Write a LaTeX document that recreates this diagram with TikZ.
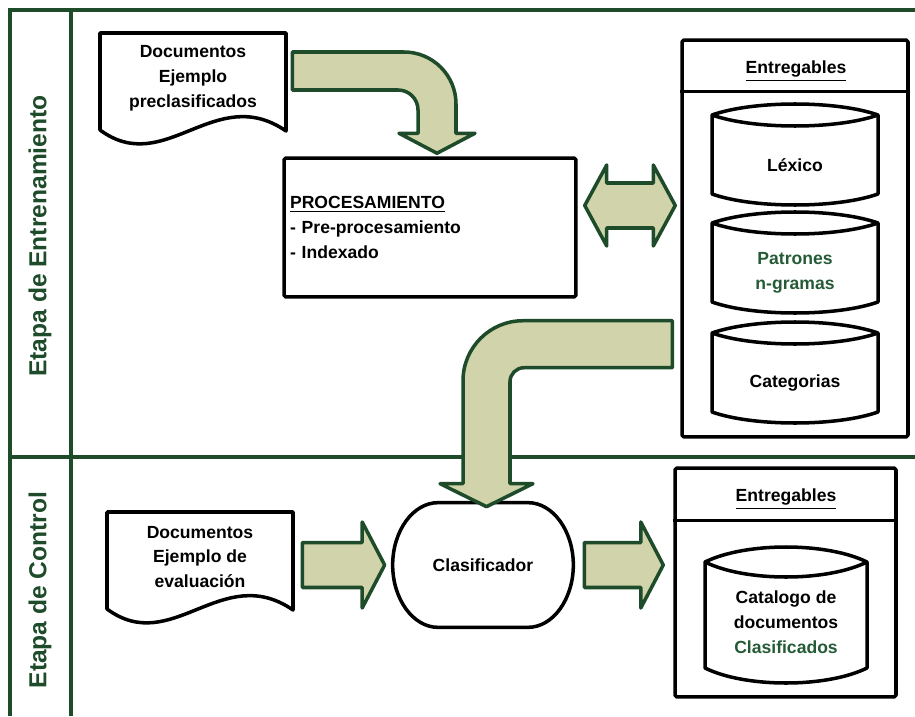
\documentclass[tikz,border=0pt]{standalone}
\usepackage{fontspec}
\setmainfont{Liberation Sans}
\usetikzlibrary{calc}
\definecolor{lane}{HTML}{1E4B2A}
\definecolor{arw}{HTML}{D1D3AB}
\definecolor{grn}{HTML}{245A36}

% sheet with a wavy lower edge, drawn round a text node
\newcommand{\docshape}[1]{%
  \draw[boxline] ($(#1.center)+(-93,-45)$) -- ($(#1.center)+(93,-45)$) -- ($(#1.center)+(93,53)$)
    .. controls ($(#1.center)+(22,4)$) and ($(#1.center)+(-28,100)$) .. ($(#1.center)+(-93,52)$) -- cycle;}
% drum: node, half width, top rim, bottom rim, bulge
\newcommand{\cylshape}[5]{%
  \draw[boxline] ($(#1.center)+(-#2,#3)$)
    .. controls ($(#1.center)+(-#2/2,#3-#5*4/3)$) and ($(#1.center)+(#2/2,#3-#5*4/3)$) .. ($(#1.center)+(#2,#3)$)
    -- ($(#1.center)+(#2,#4)$)
    .. controls ($(#1.center)+(#2/2,#4+#5*4/3)$) and ($(#1.center)+(-#2/2,#4+#5*4/3)$) .. ($(#1.center)+(-#2,#4)$) -- cycle;
  \draw[boxline] ($(#1.center)+(-#2,#3)$)
    .. controls ($(#1.center)+(-#2/2,#3+#5*4/3)$) and ($(#1.center)+(#2/2,#3+#5*4/3)$) .. ($(#1.center)+(#2,#3)$);}
% wide arrow pointing right
\newcommand{\blockarrow}[2]{%
  \draw[arrowshape] let \p1=(#1), \p2=(#2) in
    (\x1,\y1+0.45cm) -- (\x2-0.45cm,\y1+0.45cm) -- (\x2-0.45cm,\y1+0.86cm) -- (\x2,\y1)
    -- (\x2-0.45cm,\y1-0.86cm) -- (\x2-0.45cm,\y1-0.45cm) -- (\x1,\y1-0.45cm) -- cycle;}
% wide arrow with two heads
\newcommand{\dblarrow}[2]{%
  \draw[arrowshape] let \p1=(#1), \p2=(#2) in
    (\x1,\y1) -- (\x1+0.44cm,\y1+0.81cm) -- (\x1+0.44cm,\y1+0.45cm) -- (\x2-0.44cm,\y1+0.45cm)
    -- (\x2-0.44cm,\y1+0.81cm) -- (\x2,\y1) -- (\x2-0.44cm,\y1-0.81cm) -- (\x2-0.44cm,\y1-0.45cm)
    -- (\x1+0.44cm,\y1-0.45cm) -- (\x1+0.44cm,\y1-0.81cm) -- cycle;}
% wide arrow, sideways then down: start, tip, side (1 or -1), half shaft, half head, head length, outer radius, inner radius
\newcommand{\bendarrow}[8]{%
  \draw[arrowshape] let \p1=(#1), \p2=(#2) in
    (\x1,{\y1+#4})
    -- ({\x2+(#3)*(#4)-(#3)*(#7)},{\y1+#4})
    .. controls ({\x2+(#3)*(#4)-(#3)*0.448*(#7)},{\y1+#4}) and ({\x2+(#3)*(#4)},{\y1+#4-0.448*(#7)})
    .. ({\x2+(#3)*(#4)},{\y1+#4-#7})
    -- ({\x2+(#3)*(#4)},{\y2+#6})
    -- ({\x2+(#3)*(#5)},{\y2+#6})
    -- (\x2,\y2)
    -- ({\x2-(#3)*(#5)},{\y2+#6})
    -- ({\x2-(#3)*(#4)},{\y2+#6})
    -- ({\x2-(#3)*(#4)},{\y1-#4-#8})
    .. controls ({\x2-(#3)*(#4)},{\y1-#4-0.448*(#8)}) and ({\x2-(#3)*(#4)-(#3)*0.448*(#8)},{\y1-#4})
    .. ({\x2-(#3)*(#4)-(#3)*(#8)},{\y1-#4})
    -- (\x1,{\y1-#4}) -- cycle;}

\begin{document}
\begin{tikzpicture}[x=0.02cm,y=-0.02cm,
  font=\bfseries\fontsize{10}{14.2}\selectfont,
  lanebar/.style={draw=lane,line width=2.3pt},
  lanetext/.style={text=lane,font=\bfseries\fontsize{14}{16}\selectfont,rotate=90},
  boxline/.style={draw=black,line width=2pt,line join=round},
  arrowshape/.style={draw=lane,fill=arw,line width=2pt,line join=round},
  plain/.style={align=center}]
\useasboundingbox (0,0) rectangle (915,716);

% swimlanes
\draw[lanebar] (10,716) -- (10,10) -- (915,10);
\draw[lanebar] (71,10) -- (71,716);
\draw[lanebar] (10,457) -- (915,457);
\node[lanetext] (lane1) at (40,236) {Etapa de Entrenamiento};
\node[lanetext] (lane2) at (40,590) {Etapa de Control};

% entrenamiento
\node[plain,minimum width=3.72cm] (doc1) at (193,78) {Documentos\\Ejemplo\\preclasificados};
\docshape{doc1}
\node[boxline,rounded corners=1pt,minimum width=5.84cm,minimum height=2.78cm,text width=5.6cm,align=left] (proc) at (430,227.5)
  {\underline{PROCESAMIENTO}\\- Pre-procesamiento\\- Indexado};
\node[boxline,rounded corners=1pt,minimum width=4.52cm,minimum height=7.94cm] (ent1) at (795,238.5) {};
\draw[boxline] ($(ent1.north west)+(0,53)$) -- ($(ent1.north east)+(0,53)$);
\node (ent1t) at (796,71) {\underline{Entregables}};
\node[plain] (lex) at (795,165) {Léxico};
\cylshape{lex}{83}{-50}{29}{11}
\node[plain,text=grn] (pat) at (795,273) {Patrones\\n-gramas};
\cylshape{pat}{83}{-50}{29}{11}
\node[plain] (cat) at (795,383) {Categorias};
\cylshape{cat}{83}{-50}{29}{11}

% control
\node[plain,minimum width=3.72cm] (doc2) at (200,557) {Documentos\\Ejemplo de\\evaluación};
\docshape{doc2}
\node[minimum width=3.6cm,minimum height=2.48cm] (clas) at (483,565) {Clasificador};
\draw[boxline] ($(clas.north)+(-45,0)$) -- ($(clas.north)+(45,0)$)
  .. controls ($(clas.north)+(70,0)$) and ($(clas.east)+(0,-34)$) .. (clas.east)
  .. controls ($(clas.east)+(0,34)$) and ($(clas.south)+(70,0)$) .. ($(clas.south)+(45,0)$)
  -- ($(clas.south)+(-45,0)$)
  .. controls ($(clas.south)+(-70,0)$) and ($(clas.west)+(0,34)$) .. (clas.west)
  .. controls ($(clas.west)+(0,-34)$) and ($(clas.north)+(-70,0)$) .. ($(clas.north)+(-45,0)$) -- cycle;
\node[boxline,rounded corners=1pt,minimum width=4.42cm,minimum height=4.58cm] (ent2) at (785.5,582.5) {};
\draw[boxline] ($(ent2.north west)+(0,54)$) -- ($(ent2.north east)+(0,54)$);
\node (ent2t) at (786,499) {\underline{Entregables}};
\node[plain] (catal) at (786,622) {Catalogo de\\documentos\\\textcolor{grn}{Clasificados}};
\cylshape{catal}{81}{-60}{46}{15}

% flechas
\bendarrow{$(doc1.east)+(6,-7)$}{$(proc.north)+(7,-3)$}{1}{0.38cm}{0.76cm}{0.4cm}{1.04cm}{0.4cm}
\dblarrow{$(proc.east)+(7,-22)$}{$(ent1.west)+(-5,0)$}
\bendarrow{$(ent1.south west)+(-8,-94.5)$}{$(clas.north)+(3.5,4)$}{-1}{0.47cm}{0.93cm}{0.46cm}{1.2cm}{0.28cm}
\blockarrow{$(doc2.east)+(9,8)$}{$(clas.west)+(-8,0)$}
\blockarrow{$(clas.east)+(11,0)$}{$(ent2.west)+(-10,0)$}
\end{tikzpicture}
\end{document}
